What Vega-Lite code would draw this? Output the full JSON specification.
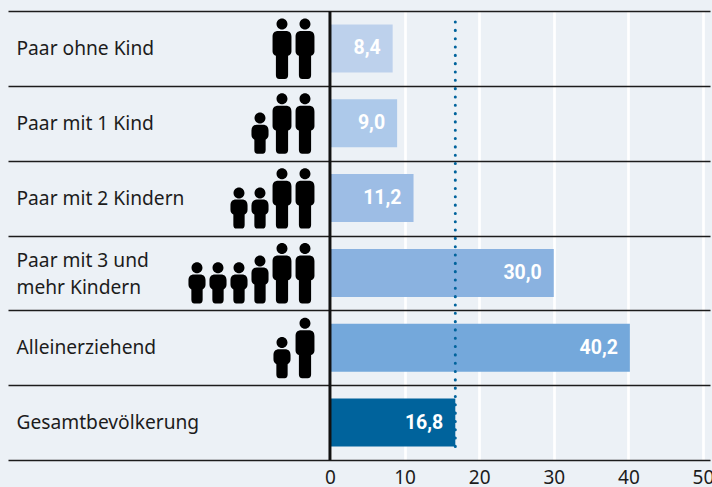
{
"$schema":"https://vega.github.io/schema/vega-lite/v6.json",
"autosize":{"type":"none"},
"padding":{"left":8,"top":11,"right":2,"bottom":27},
"width":702,"height":449,
"background":"#ecf1f6",
"config":{"view":{"stroke":null}},
"datasets":{
"bars":[
{"group":"Paar ohne Kind","quote":8.4,"label":"8,4"},
{"group":"Paar mit 1 Kind","quote":9.0,"label":"9,0"},
{"group":"Paar mit 2 Kindern","quote":11.2,"label":"11,2"},
{"group":"Paar mit 3 und mehr Kindern","quote":30.0,"label":"30,0"},
{"group":"Alleinerziehend","quote":40.2,"label":"40,2"},
{"group":"Gesamtbevölkerung","quote":16.8,"label":"16,8"}],
"people":[
{"group":"Paar ohne Kind","slot":0,"person":"adult"},{"group":"Paar ohne Kind","slot":1,"person":"adult"},
{"group":"Paar mit 1 Kind","slot":0,"person":"adult"},{"group":"Paar mit 1 Kind","slot":1,"person":"adult"},{"group":"Paar mit 1 Kind","slot":2,"person":"kid"},
{"group":"Paar mit 2 Kindern","slot":0,"person":"adult"},{"group":"Paar mit 2 Kindern","slot":1,"person":"adult"},{"group":"Paar mit 2 Kindern","slot":2,"person":"kid"},{"group":"Paar mit 2 Kindern","slot":3,"person":"kid"},
{"group":"Paar mit 3 und mehr Kindern","slot":0,"person":"adult"},{"group":"Paar mit 3 und mehr Kindern","slot":1,"person":"adult"},{"group":"Paar mit 3 und mehr Kindern","slot":2,"person":"teen"},{"group":"Paar mit 3 und mehr Kindern","slot":3,"person":"kid"},{"group":"Paar mit 3 und mehr Kindern","slot":4,"person":"kid"},{"group":"Paar mit 3 und mehr Kindern","slot":5,"person":"kid"},
{"group":"Alleinerziehend","slot":0,"person":"adult"},{"group":"Alleinerziehend","slot":1,"person":"kid"}]
},
"encoding":{"y":{"field":"group","type":"nominal","sort":null,
"scale":{"domain":["Paar ohne Kind","Paar mit 1 Kind","Paar mit 2 Kindern","Paar mit 3 und mehr Kindern","Alleinerziehend","Gesamtbevölkerung"],"paddingInner":0,"paddingOuter":0},
"axis":{"title":null,"domain":false,"ticks":false,"grid":true,"tickBand":"extent","gridColor":"#1c1c1c","gridWidth":1.6,"gridOpacity":1,"zindex":0,
"labelAlign":"left","labelPadding":-8,"labelFont":"Noto Sans","labelFontSize":19.2,"labelColor":"#1c1c1c","labelLimit":400,"labelBound":false,"labelLineHeight":27,
"labelOffset":{"condition":{"test":"datum.label == 'Paar mit 3 und mehr Kindern'","value":-12},"value":0},
"labelExpr":"datum.label == 'Paar mit 3 und mehr Kindern' ? ['Paar mit 3 und','mehr Kindern'] : datum.label"}}},
"layer":[
{"layer":[
{"data":{"name":"bars"},"mark":{"type":"bar","height":48},
"encoding":{"x":{"field":"quote","type":"quantitative",
"scale":{"domain":[-43.16,50.94],"nice":false,"zero":false},
"axis":{"title":null,"values":[0,10,20,30,40,50],"domain":false,"ticks":false,"grid":true,"gridColor":"white","gridWidth":2.7,"gridOpacity":1,"labelFont":"Noto Sans","labelFontSize":19,"labelColor":"#1c1c1c","labelPadding":8,"labelBound":false,"labelFlush":false,"labelOverlap":false,"format":"d"}},
"color":{"field":"group","type":"nominal","legend":null,"scale":{"domain":["Paar ohne Kind","Paar mit 1 Kind","Paar mit 2 Kindern","Paar mit 3 und mehr Kindern","Alleinerziehend","Gesamtbevölkerung"],"range":["#bdd1ec","#adc9ea","#9dbde5","#8ab2e0","#74a8db","#00639c"]}}}},
{"data":{"name":"bars"},"mark":{"type":"text","align":"right","dx":-12,"font":"Roboto","fontWeight":"bold","fontSize":19.5,"color":"white"},
"encoding":{"x":{"field":"quote","type":"quantitative"},"text":{"field":"label","type":"nominal"}}},
{"data":{"values":[{"wert":0}]},"mark":{"type":"rule","color":"#111111","strokeWidth":3},"encoding":{"x":{"field":"wert","type":"quantitative"},"y":null}},
{"data":{"values":[{"wert":16.8,"von":"Paar ohne Kind","bis":"Gesamtbevölkerung"}]},
"mark":{"type":"rule","color":"#00639c","strokeWidth":3,"strokeCap":"round","strokeDash":[0.1,8.22],"yOffset":-26.4,"y2Offset":23.9},
"encoding":{"x":{"field":"wert","type":"quantitative"},"y":{"field":"von","type":"nominal"},"y2":{"field":"bis"}}}
]},
{"data":{"name":"people"},"mark":{"type":"point","filled":true,"opacity":1,"color":"black","size":3721},
"encoding":{"x":{"field":"slot","type":"quantitative","axis":null,"scale":{"domain":[0,1,2,3,4,5],"range":[297,274,252,231,210,189]}},
"shape":{"field":"person","type":"nominal","legend":null,"scale":{"domain":["adult","kid","teen"],"range":[
"M-0.12,-0.57H0.12C0.25,-0.57 0.31,-0.5 0.31,-0.38V0.1C0.31,0.18 0.26,0.22 0.2,0.24V0.88C0.2,0.96 0.16,1 0.09,1H-0.09C-0.16,1 -0.2,0.96 -0.2,0.88V0.24C-0.26,0.22 -0.31,0.18 -0.31,0.1V-0.38C-0.31,-0.5 -0.25,-0.57 -0.12,-0.57ZM-0.18,-0.8A0.18,0.18 0 1 1 0.18,-0.8A0.18,0.18 0 1 1 -0.18,-0.8Z",
"M-0.1,0.05H0.1C0.21,0.05 0.28,0.12 0.28,0.24V0.38C0.28,0.46 0.24,0.51 0.185,0.54V0.88C0.185,0.96 0.15,1 0.09,1H-0.09C-0.15,1 -0.185,0.96 -0.185,0.88V0.54C-0.24,0.51 -0.28,0.46 -0.28,0.38V0.24C-0.28,0.12 -0.21,0.05 -0.1,0.05ZM-0.18,-0.17A0.18,0.18 0 1 1 0.18,-0.17A0.18,0.18 0 1 1 -0.18,-0.17Z",
"M-0.1,-0.18H0.1C0.21,-0.18 0.28,-0.11 0.28,0V0.22C0.28,0.3 0.24,0.35 0.185,0.38V0.88C0.185,0.96 0.15,1 0.09,1H-0.09C-0.15,1 -0.185,0.96 -0.185,0.88V0.38C-0.24,0.35 -0.28,0.3 -0.28,0.22V0C-0.28,-0.11 -0.21,-0.18 -0.1,-0.18ZM-0.18,-0.39A0.18,0.18 0 1 1 0.18,-0.39A0.18,0.18 0 1 1 -0.18,-0.39Z"
]}}}}
],
"resolve":{"scale":{"x":"independent"}}
}
